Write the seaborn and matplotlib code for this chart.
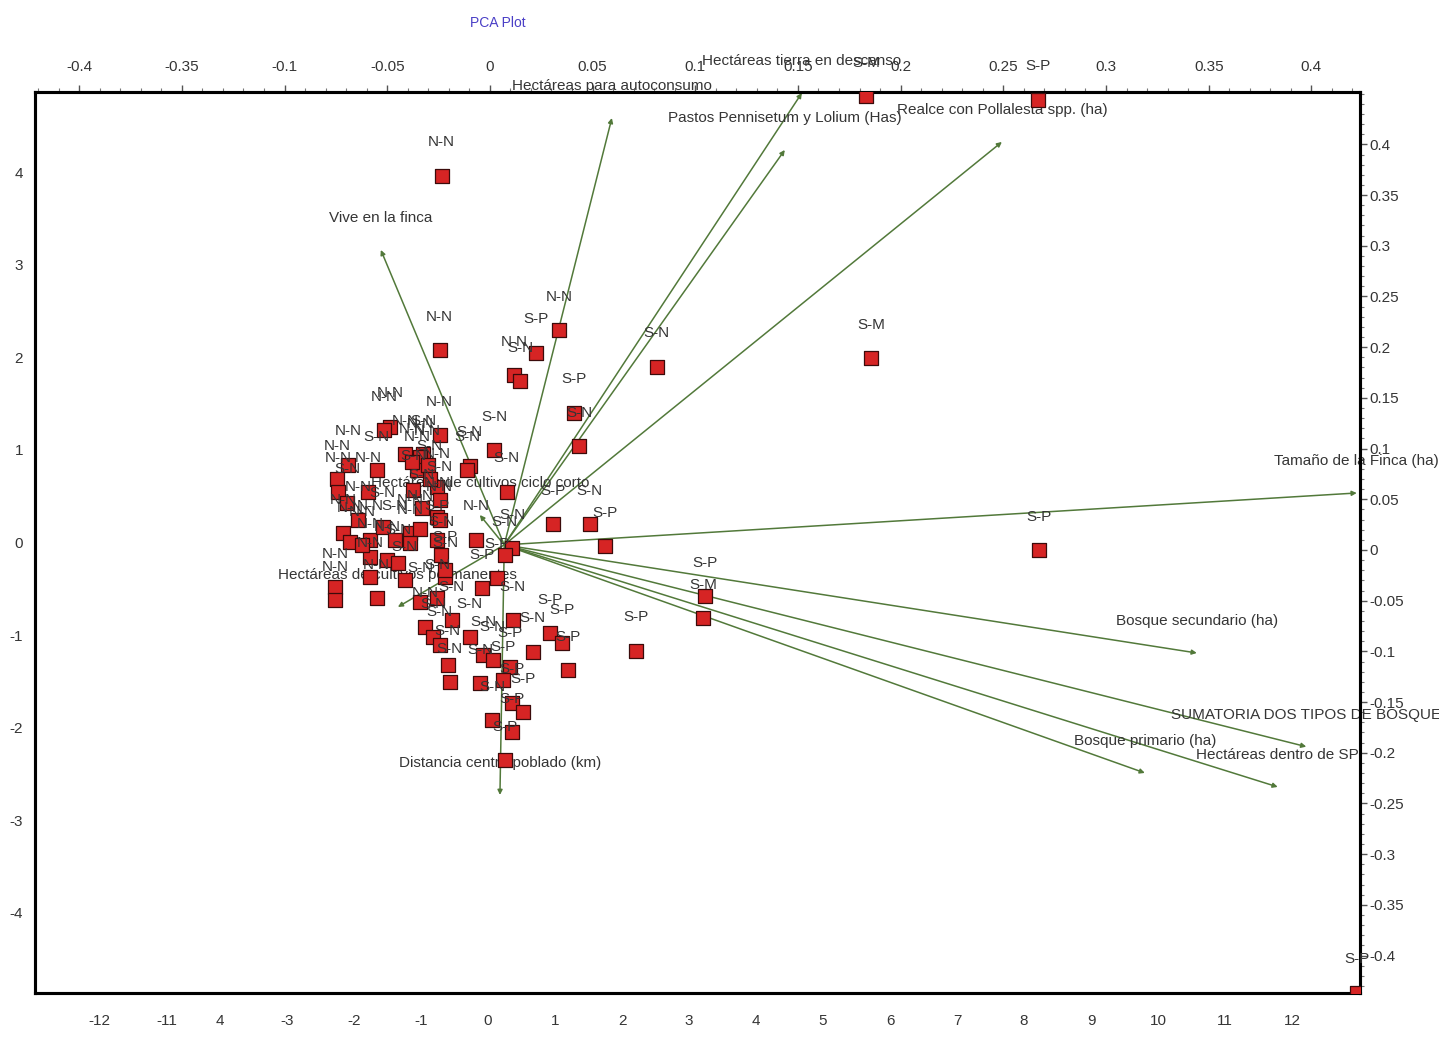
import numpy as np
import pandas as pd
import matplotlib
matplotlib.use("Agg")
import matplotlib.pyplot as plt
from matplotlib.ticker import MultipleLocator, FixedLocator
import seaborn as sns

# ----- scores (individual farms) -----
score_labels = [
    "N-N", "N-N", "S-M", "S-N", "N-N", "S-P", "N-N", "S-N", "S-P", "S-N",
    "S-P", "S-P", "S-M", "S-P", "S-M", "S-P", "S-P", "S-P", "S-N", "S-P",
    "S-N", "S-N", "S-N", "N-N", "S-N", "N-N", "N-N", "N-N", "S-N", "N-N",
    "S-N", "N-N", "N-N", "N-N", "S-N", "N-N", "N-N", "S-N", "N-N", "S-N",
    "N-N", "S-N", "N-N", "N-N", "N-N", "S-N", "N-N", "N-N", "S-P", "N-N",
    "N-N", "S-N", "N-N", "N-N", "N-N", "N-N", "S-N", "S-N", "S-N", "S-N",
    "N-N", "S-N", "S-N", "S-N", "S-N", "S-N", "N-N", "S-N", "S-N", "S-P",
    "S-P", "S-N", "S-N", "S-P", "S-P", "S-P", "S-N", "S-N", "S-N", "S-P",
    "S-P", "S-P", "S-P", "S-N", "S-P", "S-P", "N-N", "N-N", "N-N", "N-N",
    "S-N", "S-N", "S-N", "S-P", "N-N", "N-N", "S-N",
]
score_x = [
    -0.69, -0.72, 5.72, 2.52, 1.06, 0.72, 0.39, 0.48, 1.28, 1.36,
    8.22, 3.24, 3.21, 2.21, 5.64, 8.21, 12.96, 0.97, 1.52, 1.75,
    0.09, -0.27, 0.28, -0.18, 0.36, -1.46, -1.55, -0.72, -0.97, -2.09,
    -1.66, -2.25, -2.24, -1.79, -2.10, -1.01, -1.06, -1.12, -0.76, -0.99,
    -0.76, -0.31, -2.16, -2.06, -1.76, -1.57, -1.16, -1.01, -0.76, -1.76,
    -1.51, -1.34, -2.28, -2.28, -1.76, -1.66, -1.24, -1.01, -0.76, -0.54,
    -0.94, -0.82, -0.72, -0.60, -0.57, -0.27, -1.16, 0.25, -0.64, -0.09,
    0.13, 0.37, 0.67, 0.93, 1.10, 1.19, -0.12, -0.07, 0.07, 0.33,
    0.22, 0.36, 0.52, 0.06, 0.36, 0.25, -0.72, -1.24, -1.13, -0.90,
    -0.87, -0.72, -0.70, -0.64, -1.94, -1.88, -1.39,
]
score_y = [
    3.96, 2.08, 1.99, 1.90, 2.29, 2.05, 1.81, 1.74, 1.40, 1.04,
    -0.08, -0.58, -0.82, -1.17, 4.82, 4.78, -4.86, 0.20, 0.20, -0.04,
    1.00, 0.83, 0.55, 0.03, -0.06, 1.25, 1.21, 1.16, 0.95, 0.84,
    0.78, 0.68, 0.55, 0.55, 0.43, 0.92, 0.78, 0.57, 0.60, 0.37,
    0.28, 0.78, 0.10, 0.01, 0.03, 0.17, 0.10, 0.14, 0.03, -0.16,
    -0.19, -0.22, -0.48, -0.62, -0.37, -0.60, -0.41, -0.64, -0.60, -0.84,
    -0.91, -1.02, -1.11, -1.32, -1.51, -1.02, -0.01, -0.14, -0.37, -0.49,
    -0.38, -0.84, -1.18, -0.98, -1.09, -1.38, -1.52, -1.22, -1.27, -1.34,
    -1.49, -1.73, -1.83, -1.92, -2.05, -2.35, 0.24, 0.95, 0.87, 0.84,
    0.68, 0.46, -0.14, -0.30, 0.24, -0.03, 0.03,
]

# ----- loadings (variables) -----
load_names = [
    "Hectáreas para autoconsumo",
    "Hectáreas tierra en descanso",
    "Pastos Pennisetum y Lolium (Has)",
    "Realce con Pollalesta spp. (ha)",
    "Vive en la finca",
    "Tamaño de la Finca (ha)",
    "Bosque secundario (ha)",
    "SUMATORIA DOS TIPOS DE BOSQUE",
    "Hectáreas dentro de SP",
    "Bosque primario (ha)",
    "Distancia centro poblado (km)",
    "Hectáreas de cultivos ciclo corto",
    "Hectáreas de cultivos permanentes",
]
load_x = [0.0594, 0.1519, 0.1436, 0.2493, -0.0531, 0.4221, 0.3442,
          0.3975, 0.3836, 0.3189, 0.0049, -0.0049, -0.0448]
load_y = [0.426, 0.4507, 0.3945, 0.4024, 0.2959, 0.0562, -0.1016,
          -0.1940, -0.2337, -0.2199, -0.2416, 0.0345, -0.0562]
load_origin = (0.007, 0.005)

# axis tick labels as printed on the chart
bottom_pos = [-5.8, -4.8, -4, -3, -2, -1, 0, 1, 2, 3, 4, 5, 6, 7, 8, 9, 10, 11, 12]
bottom_lab = ["-12", "-11", "4", "-3", "-2", "-1", "0", "1", "2", "3", "4", "5",
              "6", "7", "8", "9", "10", "11", "12"]
top_pos = [-0.2, -0.15, -0.1, -0.05, 0, 0.05, 0.1, 0.15, 0.2, 0.25, 0.3, 0.35, 0.4]
top_lab = ["-0.4", "-0.35", "-0.1", "-0.05", "0", "0.05", "0.1", "0.15", "0.2",
           "0.25", "0.3", "0.35", "0.4"]
right_pos = [round(v, 2) + 0.0 for v in np.arange(-0.4, 0.401, 0.05)]
left_pos = [-4, -3, -2, -1, 0, 1, 2, 3, 4]

sns.set_style("white")
plt.rcParams["font.family"] = ["Liberation Sans", "DejaVu Sans"]

txt_col = "#353535"
arrow_col = "#52793a"

df = pd.DataFrame({"lab": score_labels, "x": score_x, "y": score_y})

fig = plt.figure(figsize=(14.39, 10.39), dpi=100)
rect = [0.0243, 0.0443, 0.9207, 0.8672]

# loadings axes (top / right scale)
ax2 = fig.add_axes(rect, label="loadings")
ax2.set_xlim(-0.2215, 0.4236)
ax2.set_ylim(-0.4369, 0.4517)

# scores axes (bottom / left scale), drawn on top
ax = fig.add_axes(rect, label="scores")
ax.set_xlim(-6.76, 13.01)
ax.set_ylim(-4.865, 4.865)
ax.patch.set_visible(False)

sns.scatterplot(data=df, x="x", y="y", ax=ax, marker="s", s=105,
                color="#d62424", edgecolor="#3b0b0b", linewidth=0.9, zorder=3)
for lab, x, y in zip(score_labels, score_x, score_y):
    ax.annotate(lab, xy=(x, y), xytext=(0, 24), textcoords="offset points",
                ha="center", va="center", fontsize=11, color=txt_col,
                annotation_clip=False, zorder=4)

for name, x, y in zip(load_names, load_x, load_y):
    ax2.annotate("", xy=(x, y), xytext=load_origin,
                 arrowprops=dict(arrowstyle="-|>", color=arrow_col, lw=1.1,
                                 mutation_scale=7, shrinkA=0, shrinkB=0))
    ax2.annotate(name, xy=(x, y), xytext=(0, 23), textcoords="offset points",
                 ha="center", va="center", fontsize=11, color=txt_col,
                 annotation_clip=False)

# bottom / left axis
ax.set_xlabel("")
ax.set_ylabel("")
ax.xaxis.set_major_locator(FixedLocator(bottom_pos))
ax.set_xticklabels(bottom_lab)
ax.xaxis.set_minor_locator(MultipleLocator(0.2))
ax.yaxis.set_major_locator(FixedLocator(left_pos))
ax.set_yticklabels([str(v) for v in left_pos])
ax.tick_params(axis="both", which="major", direction="out", length=5, width=1,
               labelsize=11, labelcolor=txt_col, color="#555555")
ax.tick_params(axis="x", which="minor", direction="out", length=3, width=0.8,
               color="#777777")
ax.tick_params(axis="x", pad=10)

# top / right axis
ax2.xaxis.tick_top()
ax2.yaxis.tick_right()
ax2.xaxis.set_major_locator(FixedLocator(top_pos))
ax2.set_xticklabels(top_lab)
ax2.xaxis.set_minor_locator(MultipleLocator(0.01))
ax2.yaxis.set_major_locator(FixedLocator(right_pos))
ax2.set_yticklabels(["0" if abs(v) < 1e-9 else ("%g" % v) for v in right_pos])
ax2.yaxis.set_minor_locator(MultipleLocator(0.01))
ax2.tick_params(axis="both", which="major", direction="out", length=5, width=1,
                labelsize=11, labelcolor=txt_col, color="#555555")
ax2.tick_params(axis="both", which="minor", direction="out", length=3, width=0.8,
                color="#777777")
ax2.tick_params(axis="x", pad=8)
ax2.tick_params(axis="y", pad=2)

for a in (ax, ax2):
    for sp in a.spines.values():
        sp.set_linewidth(2.2)
        sp.set_color("black")

fig.text(0.346, 0.978, "PCA Plot", ha="center", va="center", fontsize=10,
         color="#4a3fc6")

fig.savefig("out.png", dpi=100)
